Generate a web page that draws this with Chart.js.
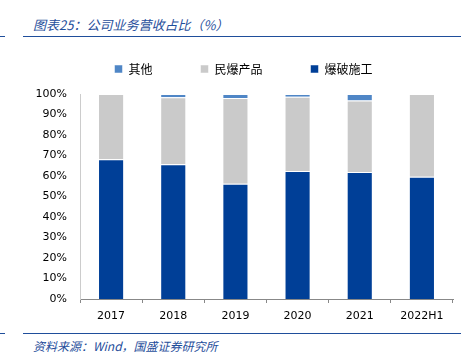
<!DOCTYPE html>
<html>
<head>
<meta charset="utf-8">
<script src="https://cdn.jsdelivr.net/npm/chart.js@4"></script>
<style>
    body { margin: 0; width: 467px; height: 354px; background: #fff; position: relative; overflow: hidden; }
    #wrap { position: absolute; left: 0; top: 0; width: 467px; height: 354px; }
    .title { position: absolute; left: 33px; top: 15px; font: italic 13px "Noto Sans CJK SC"; color: #1F4E9B; white-space: nowrap; }
    .source { position: absolute; left: 33px; top: 337px; font: italic 12px "Noto Sans CJK SC"; color: #1F4E9B; white-space: nowrap; }
    .rule { position: absolute; height: 1.4px; background: #1F4E9B; }
</style>
</head>
<body>
<div class="title">图表25：公司业务营收占比（%）</div>
<div class="rule" style="left:0;width:5px;top:36px"></div>
<div class="rule" style="left:23px;width:438px;top:36px"></div>
<div class="rule" style="left:0;width:5px;top:333px"></div>
<div class="rule" style="left:23px;width:438px;top:333px"></div>
<div class="source">资料来源：Wind，国盛证券研究所</div>
<div id="wrap"><canvas id="chart" width="467" height="354"></canvas></div>
<script>
// chart data (share of revenue, %)
const years = ['2017', '2018', '2019', '2020', '2021', '2022H1'];
const blasting = [68.2, 65.7, 56.2, 62.5, 61.9, 59.6];   // 爆破施工
const products = [31.8, 32.7, 41.8, 36.2, 34.9, 40.4];   // 民爆产品
const others = [0, 1.6, 2.0, 1.3, 3.2, 0];               // 其他

const tickFont = { family: 'DejaVu Sans', size: 11 };

// extra room under the legend
const legendGap = {
    id: 'legendGap',
    beforeInit(chart) {
        const fit = chart.legend.fit;
        chart.legend.fit = function () {
            fit.call(this);
            this.height += 9;
        };
    }
};

const ctx = document.getElementById('chart').getContext('2d');
new Chart(ctx, {
    type: 'bar',
    data: {
        labels: years,
        datasets: [
            { label: '爆破施工', data: blasting, backgroundColor: '#003F97', borderColor: 'rgba(255,255,255,0.5)', borderWidth: 1 },
            { label: '民爆产品', data: products, backgroundColor: '#CACACA', borderColor: 'rgba(255,255,255,0.5)', borderWidth: 1 },
            { label: '其他', data: others, backgroundColor: '#4F86C6', borderColor: 'rgba(255,255,255,0.5)', borderWidth: 1 }
        ]
    },
    options: {
        responsive: false,
        animation: false,
        layout: { padding: { left: 34, right: 14, top: 15, bottom: 24 } },
        datasets: { bar: { categoryPercentage: 1, barPercentage: 0.42 } },
        plugins: {
            tooltip: { enabled: false },
            legend: {
                position: 'top',
                reverse: true,
                labels: {
                    boxWidth: 8,
                    boxHeight: 8,
                    padding: 48,
                    color: '#000',
                    font: { family: 'Noto Sans CJK SC', size: 12 }
                }
            }
        },
        scales: {
            x: {
                stacked: true,
                grid: { display: true, drawOnChartArea: false, offset: true, tickLength: 4, color: '#888' },
                border: { color: '#888' },
                ticks: { color: '#000', font: tickFont, padding: 7 },
                afterFit: scale => { scale.height = 31; }
            },
            y: {
                stacked: true,
                min: 0,
                max: 100,
                grid: { display: false, drawTicks: false },
                border: { color: '#ccc' },
                ticks: {
                    stepSize: 10,
                    color: '#000',
                    font: tickFont,
                    padding: 13,
                    callback: v => v + '%'
                },
                afterFit: scale => { scale.width = 46; }
            }
        }
    },
    plugins: [legendGap]
});
</script>
</body>
</html>
